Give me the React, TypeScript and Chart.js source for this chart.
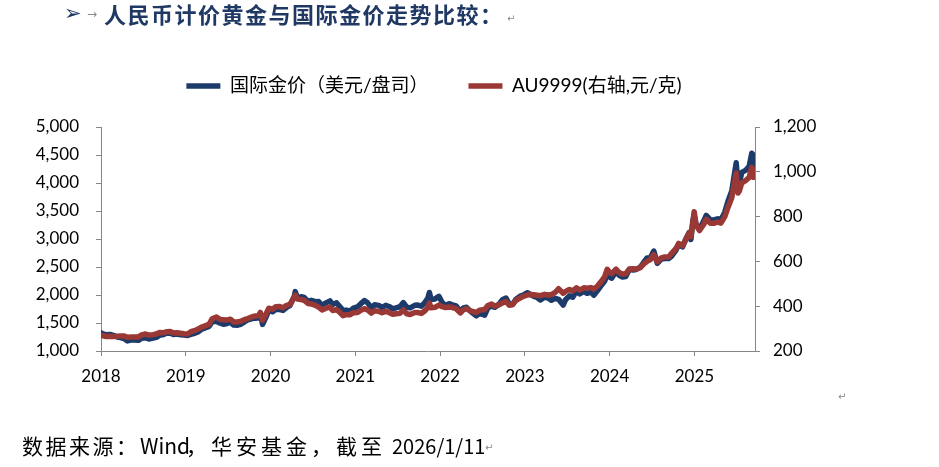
import React, { useEffect, useRef } from 'react';
import { Chart, registerables } from 'chart.js';

Chart.register(...registerables);

const DATES: string[] = [
  '2018-04-23','2018-05-01','2018-05-15','2018-06-01','2018-06-15','2018-07-02','2018-07-16','2018-08-01','2018-08-15','2018-09-03','2018-09-17','2018-10-01','2018-10-15','2018-11-01','2018-11-15','2018-12-03','2018-12-17',
  '2019-01-02','2019-01-15','2019-02-01','2019-02-15','2019-03-01','2019-03-15','2019-04-01','2019-04-15','2019-05-01','2019-05-15','2019-06-03','2019-06-17','2019-07-01','2019-07-15','2019-08-01','2019-08-15','2019-09-02','2019-09-16','2019-10-01','2019-10-15','2019-11-01','2019-11-15','2019-12-02','2019-12-16',
  '2020-01-02','2020-01-15','2020-02-03','2020-02-17','2020-03-02','2020-03-09','2020-03-19','2020-04-01','2020-04-15','2020-05-01','2020-05-15','2020-06-01','2020-06-15','2020-07-01','2020-07-15','2020-08-03','2020-08-07','2020-08-17','2020-09-01','2020-09-15','2020-10-01','2020-10-15','2020-11-02','2020-11-16','2020-12-01','2020-12-15',
  '2021-01-04','2021-01-15','2021-02-01','2021-02-16','2021-03-01','2021-03-15','2021-04-01','2021-04-15','2021-05-03','2021-05-17','2021-06-01','2021-06-15','2021-07-01','2021-07-15','2021-08-02','2021-08-16','2021-09-01','2021-09-15','2021-10-01','2021-10-15','2021-11-01','2021-11-16','2021-12-01','2021-12-15',
  '2022-01-04','2022-01-17','2022-02-01','2022-02-15','2022-03-01','2022-03-08','2022-03-15','2022-04-01','2022-04-18','2022-05-02','2022-05-16','2022-06-01','2022-06-15','2022-07-01','2022-07-20','2022-08-01','2022-08-15','2022-09-01','2022-09-26','2022-10-10','2022-11-01','2022-11-15','2022-12-01','2022-12-15',
  '2023-01-03','2023-01-16','2023-02-01','2023-02-15','2023-03-01','2023-03-15','2023-04-03','2023-04-17','2023-05-04','2023-05-15','2023-06-01','2023-06-15','2023-06-29','2023-07-17','2023-08-01','2023-08-15','2023-09-01','2023-09-15','2023-10-05','2023-10-16','2023-11-01','2023-11-15','2023-12-01','2023-12-15',
  '2024-01-02','2024-01-16','2024-02-01','2024-02-14','2024-03-01','2024-03-15','2024-04-01','2024-04-12','2024-04-23','2024-05-01','2024-05-20','2024-06-03','2024-06-17','2024-07-01','2024-07-17','2024-08-01','2024-08-15','2024-09-02','2024-09-16','2024-10-01','2024-10-15','2024-10-30','2024-11-14','2024-12-02','2024-12-16',
  '2025-01-02','2025-01-15','2025-02-03','2025-02-14','2025-03-03','2025-03-17','2025-04-01','2025-04-08','2025-04-16','2025-04-22','2025-05-01','2025-05-15','2025-06-02','2025-06-13','2025-07-01','2025-07-15','2025-08-01','2025-08-15','2025-09-01','2025-09-15','2025-10-01','2025-10-08','2025-10-20','2025-10-28','2025-11-03','2025-11-13','2025-12-01','2025-12-15','2025-12-26',
  '2026-01-02','2026-01-09',
];

const GOLD_USD: number[] = [
  1325,1305,1290,1295,1280,1250,1240,1220,1180,1200,1198,1190,1228,1235,1215,1230,1245,
  1285,1290,1320,1318,1295,1302,1290,1285,1278,1297,1320,1345,1390,1412,1440,1522,1530,1500,1478,1488,1510,1465,1462,1478,
  1525,1555,1580,1585,1595,1675,1475,1590,1730,1700,1745,1740,1725,1780,1810,1975,2060,1945,1970,1955,1885,1905,1880,1885,1810,1855,
  1895,1830,1860,1790,1722,1730,1715,1765,1790,1845,1900,1860,1775,1825,1815,1780,1815,1795,1755,1770,1790,1865,1780,1770,
  1815,1820,1800,1855,1940,2045,1920,1930,1975,1865,1812,1845,1825,1805,1700,1770,1780,1708,1628,1670,1640,1775,1800,1780,
  1840,1915,1945,1835,1830,1920,1980,2000,2040,2015,1975,1955,1910,1960,1945,1905,1940,1923,1820,1920,1985,1960,2070,2020,
  2065,2030,2055,1995,2080,2160,2250,2370,2320,2300,2425,2350,2320,2330,2460,2445,2455,2500,2580,2660,2665,2785,2565,2640,2650,
  2650,2695,2800,2900,2860,3000,3120,2990,3310,3420,3240,3180,3320,3420,3340,3340,3360,3340,3480,3680,3860,4040,4360,3960,4000,4190,4230,4300,4530,
  4330,4500,
];

const AU9999: number[] = [
  271,268,265,266,265,266,267,267,261,263,263,262,272,276,271,273,276,
  283,281,286,287,280,281,279,277,276,286,292,299,307,312,319,344,352,342,339,338,342,330,330,333,
  341,345,353,356,358,372,337,362,391,386,398,399,393,404,408,441,450,432,430,426,412,410,404,396,383,390,
  396,381,385,372,358,362,362,371,372,382,389,383,369,380,377,371,377,372,364,366,368,383,366,363,
  372,372,368,378,394,414,393,395,405,398,394,396,394,389,370,384,389,379,372,382,385,403,410,400,
  407,414,421,404,407,425,437,444,450,452,451,449,447,453,450,452,462,478,458,466,475,468,482,472,
  482,480,483,477,490,508,532,565,550,545,565,550,544,545,566,567,566,572,588,600,608,630,598,616,620,
  620,636,658,680,670,697,728,710,770,822,760,738,765,788,770,770,775,771,800,842,884,925,995,905,915,950,962,975,1020,
  975,1010,
];

const X_TICK_LABELS: string[] = ['2018', '2019', '2020', '2021', '2022', '2023', '2024', '2025'];

const LEGEND_LABELS: string[] = ['国际金价（美元/盘司）', 'AU9999(右轴,元/克)'];

const BLUE = '#1C3B6A';
const RED = '#9A3835';
const AXIS = '#868686';
const FONT = "Lato, 'Noto Sans CJK SC', 'Noto Sans', sans-serif";

function toYear(d: string): number {
  const [y, m, day] = d.split('-').map(Number);
  const start = Date.UTC(y, 0, 1);
  const t = Date.UTC(y, m - 1, day);
  const len = Date.UTC(y + 1, 0, 1) - start;
  return y + (t - start) / len;
}

const X_MIN = toYear(DATES[0]);
const X_MAX = toYear(DATES[DATES.length - 1]);

const legendSpacer = {
  id: 'legendSpacer',
  beforeInit(chart: any) {
    const legend = chart.legend;
    if (!legend) return;
    const orig = legend.fit.bind(legend);
    legend.fit = function () {
      orig();
      this.height += 21.5;
    };
  },
};

export default function App() {
  const ref = useRef<HTMLCanvasElement | null>(null);

  useEffect(() => {
    if (!ref.current) return;
    const goldPts = DATES.map((d, i) => ({ x: toYear(d), y: GOLD_USD[i] }));
    const auPts = DATES.map((d, i) => ({ x: toYear(d), y: AU9999[i] }));
    const chart = new Chart(ref.current, {
      type: 'line',
      data: {
        datasets: [
          {
            label: LEGEND_LABELS[0],
            data: goldPts,
            borderColor: BLUE,
            backgroundColor: BLUE,
            borderWidth: 5.5,
            pointRadius: 0,
            tension: 0,
            borderCapStyle: 'round',
            borderJoinStyle: 'round',
            yAxisID: 'y',
            order: 2,
          },
          {
            label: LEGEND_LABELS[1],
            data: auPts,
            borderColor: RED,
            backgroundColor: RED,
            borderWidth: 5.5,
            pointRadius: 0,
            tension: 0,
            borderCapStyle: 'round',
            borderJoinStyle: 'round',
            yAxisID: 'y1',
            order: 1,
          },
        ],
      },
      options: {
        animation: false,
        responsive: false,
        maintainAspectRatio: false,
        events: [],
        layout: { padding: { left: 0, right: 71, top: 36.5, bottom: 76 } },
        plugins: {
          legend: {
            display: true,
            position: 'top',
            labels: {
              usePointStyle: true,
              pointStyle: 'line',
              pointStyleWidth: 34,
              padding: 40,
              color: '#000',
              font: { family: FONT, size: 19 },
              sort: (a: any, b: any) => a.datasetIndex - b.datasetIndex,
            },
          },
          tooltip: { enabled: false },
          title: { display: false },
        },
        scales: {
          x: {
            type: 'linear',
            min: X_MIN,
            max: X_MAX,
            afterBuildTicks: (s: any) => {
              s.ticks = X_TICK_LABELS.map((_, i) => ({ value: X_MIN + i }));
            },
            afterFit: (s: any) => {
              s.height = 40;
            },
            ticks: {
              autoSkip: false,
              maxRotation: 0,
              padding: 10,
              color: '#000',
              font: { family: FONT, size: 17 },
              callback: (_v: any, i: number) => X_TICK_LABELS[i],
            },
            grid: { drawOnChartArea: false, drawTicks: true, tickLength: 5, color: AXIS },
            border: { color: AXIS, width: 1 },
          },
          y: {
            type: 'linear',
            position: 'left',
            min: 1000,
            max: 5000,
            afterFit: (s: any) => {
              s.width = 101;
            },
            ticks: {
              stepSize: 500,
              padding: 17,
              color: '#000',
              font: { family: FONT, size: 17 },
            },
            grid: { drawOnChartArea: false, drawTicks: true, tickLength: 5, color: AXIS },
            border: { color: AXIS, width: 1 },
          },
          y1: {
            type: 'linear',
            position: 'right',
            min: 200,
            max: 1200,
            afterFit: (s: any) => {
              s.width = 113;
            },
            ticks: {
              stepSize: 200,
              padding: 13,
              color: '#000',
              font: { family: FONT, size: 17 },
            },
            grid: { drawOnChartArea: false, drawTicks: true, tickLength: 5, color: AXIS },
            border: { color: AXIS, width: 1 },
          },
        },
      },
      plugins: [legendSpacer],
    });
    return () => chart.destroy();
  }, []);

  const abs = (left: number, top: number, extra: React.CSSProperties = {}): React.CSSProperties => ({
    position: 'absolute',
    left,
    top,
    whiteSpace: 'nowrap',
    margin: 0,
    ...extra,
  });

  const titleFont: React.CSSProperties = {
    fontFamily: "'Noto Sans CJK SC', sans-serif",
    fontWeight: 700,
    fontSize: 22,
    lineHeight: '22px',
    color: '#1F3864',
  };
  const footFont: React.CSSProperties = {
    fontFamily: "'Noto Sans CJK SC', sans-serif",
    fontSize: 21,
    lineHeight: '21px',
    color: '#000',
  };
  const markFont: React.CSSProperties = {
    fontFamily: "'DejaVu Sans', sans-serif",
    fontSize: 10,
    lineHeight: '10px',
    color: '#8a8a8a',
  };

  return (
    <div style={{ position: 'absolute', left: 0, top: 0, width: 939, height: 467, background: '#fff', overflow: 'hidden' }}>
      <canvas ref={ref} width={939} height={467} style={{ position: 'absolute', left: 0, top: 0, width: 939, height: 467 }} />
      <div style={abs(64, 2, { ...titleFont, fontFamily: "'DejaVu Sans', sans-serif", fontSize: 21, lineHeight: '22px' })}>➢</div>
      <div style={abs(87, 8, { ...markFont, fontSize: 12, lineHeight: '12px' })}>→</div>
      <div style={abs(104, 2, { ...titleFont, letterSpacing: 1.5 })}>人民币计价黄金与国际金价走势比较：</div>
      <div style={abs(507, 14, markFont)}>↵</div>
      <div style={abs(22, 435, { ...footFont, letterSpacing: 2.5 })}>数据来源：</div>
      <div style={abs(140, 435, footFont)}>Wind</div>
      <div style={abs(186, 435, { ...footFont, letterSpacing: 4 })}>，华安基金，截至</div>
      <div style={abs(392, 436, { ...footFont, fontSize: 20, lineHeight: '20px', letterSpacing: 0 })}>2026/1/11</div>
      <div style={abs(485, 443, markFont)}>↵</div>
      <div style={abs(838, 392, markFont)}>↵</div>
    </div>
  );
}
